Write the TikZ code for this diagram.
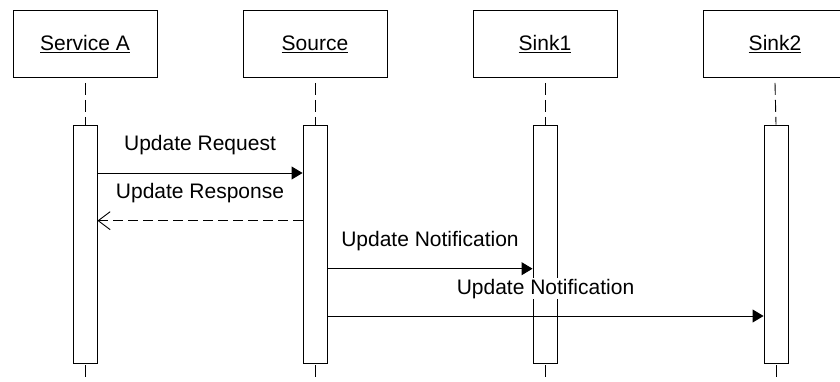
\documentclass[tikz,border=0pt]{standalone}
\usepackage{fontspec}
\setmainfont{Liberation Sans}
\usepackage{tikz}
\usetikzlibrary{arrows.meta, positioning, calc}

\begin{document}
\begin{tikzpicture}[x=1pt, y=-1pt, line width=0.9pt,
    font=\fontsize{21}{25}\selectfont,
    actor/.style={draw, fill=white, minimum width=144pt, minimum height=67pt, inner sep=0pt},
    bar/.style={draw, fill=white, minimum width=24pt, minimum height=238pt, inner sep=0pt},
    life/.style={dash pattern=on 12pt off 5pt},
    call/.style={-{Triangle[length=11pt, width=13pt]}},
    reply/.style={-{Straight Barb[length=12pt, width=18pt]}, dash pattern=on 10pt off 5pt},
    msglbl/.style={anchor=base, yshift=22pt, inner sep=1pt, fill=white}]
\useasboundingbox (0,0) rectangle (840,382);
\clip (0,0) rectangle (840,382);

% Participants
\node[actor] (svcA)  at (85,44)  {\underline{Service A}};
\node[actor] (src)   at (315,44) {\underline{Source}};
\node[actor] (sink1) at (545,44) {\underline{Sink1}};
\node[actor] (sink2) at (775,44) {\underline{Sink2}};

% Activation bars
\node[bar] (barA)  at (85,244)  {};
\node[bar] (barS)  at (315,244) {};
\node[bar] (bar1)  at (545,244) {};
\node[bar] (bar2)  at (776,244) {};

% Lifelines
\foreach \p/\b in {svcA/barA, src/barS, sink1/bar1, sink2/bar2} {
  \draw[life] ([yshift=-5pt]\p.south) -- (\b.north);
  \draw[life] ([yshift=-2pt]\b.south) -- ++(0,25);
}

% Message rows
\coordinate (m1) at (0,173);
\coordinate (m2) at (0,220.7);
\coordinate (m3) at (0,268.7);
\coordinate (m4) at (0,316);

% Messages
\draw[call] (barA.east |- m1) -- node[msglbl] (lreq) {Update Request} (barS.west |- m1);
\draw[reply] (barS.west |- m2) -- node[msglbl] (lresp) {Update Response} (barA.east |- m2);
\draw[call] (barS.east |- m3) -- node[msglbl] (lnot1) {Update Notification} (bar1.west |- m3);
\draw[call] (barS.east |- m4) -- node[msglbl] (lnot2) {Update Notification} (bar2.west |- m4);
\end{tikzpicture}
\end{document}
